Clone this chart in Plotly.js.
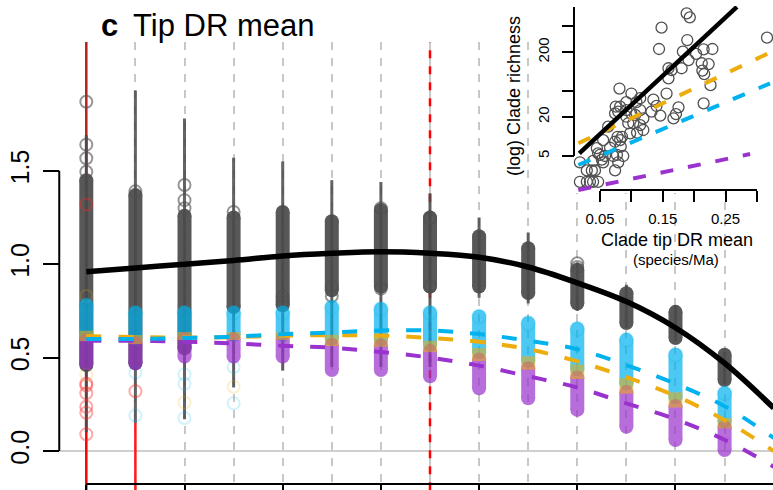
<!DOCTYPE html>
<html><head><meta charset="utf-8">
<script src="https://cdn.plot.ly/plotly-3.0.1.min.js"></script>
<style>html,body{margin:0;padding:0;background:#fff;}#chart{width:773px;height:490px;}</style>
</head><body><div id="chart"></div>
<script>
// ---------- main panel data (column index = time slice) ----------
const colIdx   = [0,1,2,3,4,5,6,7,8,9,10,11,12,13];
const stemTop  = [1.69,1.93,1.78,1.57,1.55,1.45,1.44,1.38,1.25,1.17,1.01,0.89,0.78,0.53];
const stemBot  = [0.10,0.15,0.17,0.34,0.43,0.45,0.45,0.45,0.82,0.79,0.75,0.66,0.59,0.36];
const grayHi   = [1.45,1.37,1.26,1.25,1.28,1.23,1.29,1.25,1.15,1.085,0.97,0.845,0.745,0.515];
const grayLo   = [0.46,0.47,0.55,0.77,0.78,0.86,0.88,0.88,0.88,0.845,0.79,0.685,0.605,0.38];
const grayOutCol = [0,0,0,0,1,2,2,2,3,4,4,5,5,6,6,7,7,10,10];
const grayOutVal = [1.87,1.64,1.567,1.495,1.39,1.424,1.343,1.30,1.28,0.826,0.80,0.88,0.83,1.30,0.87,1.246,0.88,1.005,0.985];
const colorHi  = [0.78,0.74,0.74,0.74,0.74,0.77,0.76,0.74,0.72,0.685,0.655,0.595,0.515,0.31];
const colorLo  = [0.47,0.47,0.505,0.505,0.505,0.434,0.434,0.40,0.336,0.282,0.22,0.13,0.059,0.005];
const redOutCol = [0,0,0,0,0,0,0,1];
const redOutVal = [1.32,0.362,0.35,0.309,0.237,0.205,0.09,0.32];
const faintCol = [0,0,1,1,2,2,2,2,3,3,3];
const faintVal = [0.83,0.41,0.42,0.19,0.41,0.36,0.26,0.177,0.45,0.344,0.255];
const faintHue = ['o','o','c','c','c','c','o','c','c','o','c'];

const curveX      = [0,1,2,3,4,5,6,7,8,9,10,11,12,13,14];
const blackCurve  = [0.96,0.98,1.0,1.02,1.044,1.058,1.066,1.058,1.037,0.985,0.90,0.80,0.66,0.47,0.23];
const orangeCurve = [0.615,0.61,0.607,0.61,0.617,0.62,0.618,0.605,0.585,0.545,0.48,0.395,0.295,0.165,0.0];
const cyanCurve   = [0.60,0.60,0.605,0.612,0.625,0.635,0.645,0.645,0.626,0.59,0.545,0.46,0.36,0.24,0.07];
const purpleCurve = [0.59,0.59,0.585,0.576,0.563,0.553,0.53,0.50,0.457,0.40,0.34,0.255,0.17,0.06,-0.084];

const yTickVals = [0,0.5,1,1.5];
const yTickText = ['0.0','0.5','1.0','1.5'];

// ---------- inset data ----------
const insetDR   = [0.188,0.193,0.148,0.316,0.189,0.144,0.229,0.215,0.203,0.182,0.191,0.212,0.223,0.213,0.216,
  0.159,0.164,0.180,0.159,0.226,0.215,0.156,0.175,0.171,0.167,0.146,0.135,0.140,0.132,
  0.081,0.100,0.114,0.092,0.108,0.075,0.082,0.079,0.074,0.114,0.106,0.092,0.119,0.103,0.095,0.114,
  0.063,0.119,0.098,0.109,0.078,0.082,0.074,0.083,0.066,0.085,0.087,0.079,0.055,0.045,0.050,0.058,
  0.053,0.039,0.055,0.047,0.018,0.074,0.029,0.037,0.042,0.018,0.029,0.034,0.039,0.047,0.071,0.077,0.092,0.100];
const insetRich = [796,690,478,335,308,224,224,221,188,204,151,135,131,104,92,
  113,106,113,79,62,32.5,46,28.2,22.2,19,21,37,29.6,24.2,
  55,46,39,34,34,28.9,28.9,24.2,22.8,25.6,21.5,20.2,19,16,16,15,
  14.2,12.6,11.2,11.5,9.9,8.8,8.3,7,6.7,9.9,5,4,8.8,6.6,5.2,5,
  4.4,4.2,4,5.5,4,3,3,3,3,2,2,2,2,2,5,5.2,25.6,22.8];
const fitBlackX = [0.017,0.268],  fitBlackY = [5.5,1000];
const fitOrangeX = [0.0155,0.318], fitOrangeY = [7.85,192];
const fitCyanX = [0.0155,0.3207],  fitCyanY = [3.63,66];
const fitPurpleX = [0.0155,0.289], fitPurpleY = [1.49,5.36];
const inXTickVals = [0.05,0.10,0.15,0.20,0.25,0.30];
const inXTickText = ['0.05','','0.15','','0.25',''];
const inYTickVals = [5,20,50,200,500];
const inYTickText = ['5','20','','200',''];

// ---------- colours ----------
const CYAN='#00B2EE', ORANGE='#EEAD0E', PURPLE='#9A32CD', GRAY='#4a4a4a';

function segs(cols, lo, hi){const x=[],y=[];cols.forEach((c,i)=>{x.push(c,c,null);y.push(lo[i],hi[i],null);});return {x,y};}
const T=[];
const base={hoverinfo:'skip',showlegend:false};

// zero line and red reference lines
T.push({...base,type:'scatter',mode:'lines',x:[-0.551,14],y:[0,0],line:{color:'#cfcfcf',width:2}});
T.push({...base,type:'scatter',mode:'lines',x:[0,0],y:[-0.21,0.5],line:{color:'#ff0000',width:2.5}});
T.push({...base,type:'scatter',mode:'lines',x:[0,0],y:[0.5,2.19],line:{color:'#b52020',width:2.5}});
T.push({...base,type:'scatter',mode:'lines',x:[1,1],y:[-0.21,0.15],line:{color:'#ff1a1a',width:2.5}});
T.push({...base,type:'scatter',mode:'lines',x:[7,7],y:[-0.21,2.19],line:{color:'#ff0000',width:2.5,dash:'8px,8px'}});
// stems
let s=segs(colIdx,stemBot,stemTop);
T.push({...base,type:'scatter',mode:'lines',x:s.x,y:s.y,line:{color:GRAY,width:3},opacity:0.85});
// gray blobs
s=segs(colIdx,grayLo,grayHi);
T.push({...base,type:'scatter',mode:'lines+markers',x:s.x,y:s.y,line:{color:GRAY,width:14},marker:{color:GRAY,size:14},opacity:0.92});
T.push({...base,type:'scatter',mode:'markers',x:grayOutCol,y:grayOutVal,marker:{symbol:'circle-open',size:12,color:'rgba(80,80,80,0.6)',line:{width:2}}});
T.push({...base,type:'scatter',mode:'markers',x:redOutCol,y:redOutVal,marker:{symbol:'circle-open',size:12,color:'rgba(255,40,40,0.4)',line:{width:2}}});
T.push({...base,type:'scatter',mode:'markers',x:faintCol,y:faintVal,marker:{symbol:'circle-open',size:12,color:faintHue.map(h=>h==='o'?'rgba(238,173,14,0.2)':'rgba(0,178,238,0.18)'),line:{width:2}}});
// coloured clouds
const rng=colorHi.map((h,i)=>h-colorLo[i]);
s=segs(colIdx,colorHi.map((h,i)=>h-0.5*rng[i]),colorHi);
T.push({...base,type:'scatter',mode:'lines+markers',x:s.x,y:s.y,line:{color:CYAN,width:14},marker:{color:CYAN,size:14},opacity:0.7});
s=segs(colIdx,colorLo,colorHi.map((h,i)=>h-0.6*rng[i]));
T.push({...base,type:'scatter',mode:'lines+markers',x:s.x,y:s.y,line:{color:PURPLE,width:14},marker:{color:PURPLE,size:14},opacity:0.7});
s=segs(colIdx,colorHi.map((h,i)=>h-0.62*rng[i]),colorHi.map((h,i)=>h-0.44*rng[i]));
T.push({...base,type:'scatter',mode:'lines',x:s.x,y:s.y,line:{color:ORANGE,width:14},opacity:0.55});
T.push({...base,type:'scatter',mode:'markers',x:colIdx,y:colorHi,marker:{symbol:'circle-open',size:14,color:'rgba(0,178,238,0.15)',line:{width:2}}});
// fitted curves
T.push({...base,type:'scatter',mode:'lines',x:curveX,y:blackCurve,line:{color:'#000',width:5.5,shape:'spline'}});
T.push({...base,type:'scatter',mode:'lines',x:curveX,y:orangeCurve,line:{color:ORANGE,width:4,shape:'spline',dash:'15px,17px'}});
T.push({...base,type:'scatter',mode:'lines',x:curveX,y:purpleCurve,line:{color:PURPLE,width:4,shape:'spline',dash:'15px,17px'}});
T.push({...base,type:'scatter',mode:'lines',x:curveX,y:cyanCurve,line:{color:CYAN,width:4,shape:'spline',dash:'15px,17px'}});
// axis lines
T.push({...base,type:'scatter',mode:'lines',x:[-0.551,-0.551],y:[0,1.5],line:{color:'#000',width:2}});
T.push({...base,type:'scatter',mode:'lines',x:[0,14],y:[-0.1767,-0.1767],line:{color:'#000',width:2}});

// inset
const ax2={xaxis:'x2',yaxis:'y2'};
T.push({...base,...ax2,type:'scatter',mode:'markers',x:insetDR,y:insetRich,marker:{symbol:'circle-open',size:11,color:'#505050',line:{width:1.3}}});
T.push({...base,...ax2,type:'scatter',mode:'lines',x:fitOrangeX,y:fitOrangeY,line:{color:ORANGE,width:4,dash:'13px,15px'}});
T.push({...base,...ax2,type:'scatter',mode:'lines',x:fitCyanX,y:fitCyanY,line:{color:CYAN,width:4,dash:'13px,15px'}});
T.push({...base,...ax2,type:'scatter',mode:'lines',x:fitPurpleX,y:fitPurpleY,line:{color:PURPLE,width:4,dash:'13px,15px'}});
T.push({...base,...ax2,type:'scatter',mode:'lines',x:fitBlackX,y:fitBlackY,line:{color:'#000',width:4.5}});
T.push({...base,...ax2,type:'scatter',mode:'lines',x:[0.0086,0.0086],y:[5,995],line:{color:'#000',width:2}});
T.push({...base,...ax2,type:'scatter',mode:'lines',x:[0.05,0.30],y:[1.494,1.494],line:{color:'#000',width:2}});

const FONT='Liberation Sans, Arial, Helvetica, sans-serif';
const layout={
  width:773,height:490,margin:{l:0,r:0,t:0,b:0},paper_bgcolor:'#fff',plot_bgcolor:'#fff',showlegend:false,
  font:{family:FONT,color:'#000'},
  xaxis:{domain:[40/773,1],range:[-0.943,13.986],anchor:'free',position:6/490,tickmode:'linear',tick0:0,dtick:2,
    ticks:'outside',ticklen:6,tickwidth:2,tickcolor:'#000',showticklabels:false,showline:false,zeroline:false,
    showgrid:true,gridcolor:'#c8c8c8',gridwidth:2,griddash:'8px,8px',
    minor:{dtick:1,tick0:0,showgrid:true,gridcolor:'#c8c8c8',gridwidth:2,griddash:'8px,8px',ticks:''}},
  yaxis:{domain:[0,448/490],range:[-0.2088,2.1895],anchor:'free',position:59/773,tickmode:'array',
    tickvals:yTickVals,ticktext:yTickText,ticks:'outside',ticklen:16,tickwidth:2,tickcolor:'#000',tickangle:-90,
    ticklabelstandoff:4,tickfont:{size:25,family:FONT},showgrid:false,zeroline:false,showline:false},
  xaxis2:{domain:[571/773,1],range:[0.00382,0.3255],anchor:'free',position:300/490,tickmode:'array',
    tickvals:inXTickVals,ticktext:inXTickText,ticks:'outside',ticklen:11,tickwidth:2,tickcolor:'#000',
    ticklabelstandoff:4,tickfont:{size:15,family:FONT},showgrid:false,zeroline:false,showline:false},
  yaxis2:{type:'log',domain:[1-193/490,1-6/490],range:[0.128,3.014],anchor:'free',position:574/773,tickmode:'array',
    tickvals:inYTickVals,ticktext:inYTickText,ticks:'outside',ticklen:12,tickwidth:2,tickcolor:'#000',tickangle:-90,
    ticklabelstandoff:7,tickfont:{size:15,family:FONT},showgrid:false,zeroline:false,showline:false},
  annotations:[
    {xref:'paper',yref:'paper',x:99/773,y:1-26/490,xanchor:'left',yanchor:'middle',showarrow:false,text:'<b>c</b>',font:{size:31,family:FONT}},
    {xref:'paper',yref:'paper',x:131/773,y:1-26/490,xanchor:'left',yanchor:'middle',showarrow:false,text:'Tip DR mean',font:{size:31,family:FONT}},
    {xref:'paper',yref:'paper',x:677/773,y:1-240/490,xanchor:'center',yanchor:'middle',showarrow:false,text:'Clade tip DR mean',font:{size:18,family:FONT}},
    {xref:'paper',yref:'paper',x:676/773,y:1-259/490,xanchor:'center',yanchor:'middle',showarrow:false,text:'(species/Ma)',font:{size:15,family:FONT}},
    {xref:'paper',yref:'paper',x:514/773,y:1-96/490,xanchor:'center',yanchor:'middle',showarrow:false,textangle:-90,text:'(log) Clade richness',font:{size:18,family:FONT}}
  ]
};
Plotly.newPlot('chart',T,layout,{staticPlot:true,displayModeBar:false});
</script></body></html>
